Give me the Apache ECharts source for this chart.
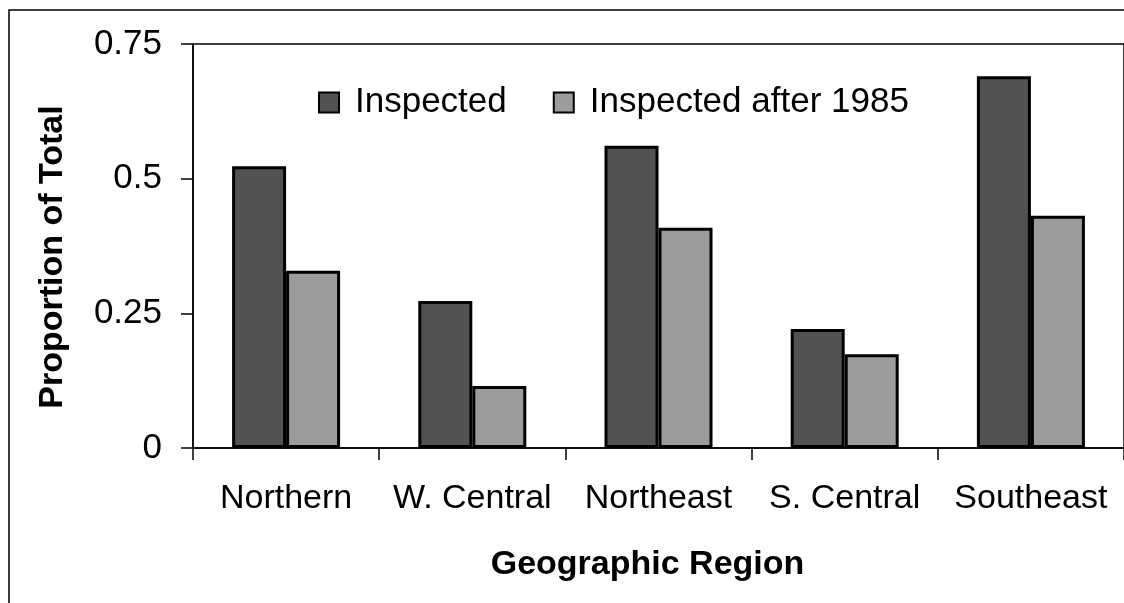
<!DOCTYPE html>
<html>
<head>
<meta charset="utf-8">
<script src="https://cdn.jsdelivr.net/npm/echarts@6/dist/echarts.min.js"></script>
<style>
  html, body { margin: 0; padding: 0; background: #fff; }
  #chart { width: 1124px; height: 603px; }
</style>
</head>
<body>
<div id="chart"></div>
<script>
const regions = ['Northern', 'W. Central', 'Northeast', 'S. Central', 'Southeast']
const inspected = [0.523, 0.273, 0.561, 0.221, 0.69]
const inspectedAfter1985 = [0.329, 0.115, 0.409, 0.174, 0.431]
const yTicks = [0, 0.25, 0.5, 0.75]

const font = "'Liberation Sans', Arial, sans-serif"

const chart = echarts.init(document.getElementById('chart'))

const option = {
  animation: false,
  backgroundColor: '#fff',
  textStyle: { fontFamily: font },
  grid: {
    left: 193,
    top: 44,
    right: -5,
    bottom: 155,
    show: true,
    borderColor: '#000',
    borderWidth: 1.5
  },
  legend: {
    left: 313,
    top: 80,
    itemWidth: 20,
    itemHeight: 20,
    itemGap: 46,
    icon: 'rect',
    textStyle: { fontSize: 35, color: '#000', fontFamily: font, padding: [0, 0, 0, 11] },
    data: ['Inspected', 'Inspected after 1985']
  },
  xAxis: {
    type: 'category',
    data: regions,
    name: 'Geographic Region',
    nameLocation: 'middle',
    nameGap: 100,
    nameTextStyle: { fontSize: 34, fontWeight: 'bold', color: '#000', padding: [0, 22, 0, 0] },
    axisLine: { lineStyle: { color: '#000', width: 1.5 } },
    axisTick: { show: true, interval: 0, length: 12, lineStyle: { color: '#000', width: 1.5 } },
    axisLabel: { interval: 0, fontSize: 34, color: '#000', margin: 34 }
  },
  yAxis: {
    type: 'value',
    min: yTicks[0],
    max: yTicks[yTicks.length - 1],
    interval: 0.25,
    name: 'Proportion of Total',
    nameLocation: 'middle',
    nameGap: 123,
    nameTextStyle: { fontSize: 34, fontWeight: 'bold', color: '#000', padding: [0, 22, 0, 0] },
    axisLine: { show: true, lineStyle: { color: '#000', width: 1.5 } },
    axisTick: { show: true, length: 12, lineStyle: { color: '#000', width: 1.5 } },
    axisLabel: { fontSize: 35, color: '#000', margin: 31 },
    splitLine: { show: false }
  },
  series: [
    {
      name: 'Inspected',
      type: 'bar',
      barWidth: 54,
      barGap: '0%',
      itemStyle: { color: '#525252', borderColor: '#000', borderWidth: 3 },
      data: inspected
    },
    {
      name: 'Inspected after 1985',
      type: 'bar',
      barWidth: 54,
      itemStyle: { color: '#9c9c9c', borderColor: '#000', borderWidth: 3 },
      data: inspectedAfter1985
    }
  ],
  graphic: [
    {
      type: 'rect',
      shape: { x: 9, y: 10, width: 1200, height: 700 },
      style: { fill: 'none', stroke: '#000', lineWidth: 1.5 }
    }
  ]
}

chart.setOption(option)
</script>
</body>
</html>
